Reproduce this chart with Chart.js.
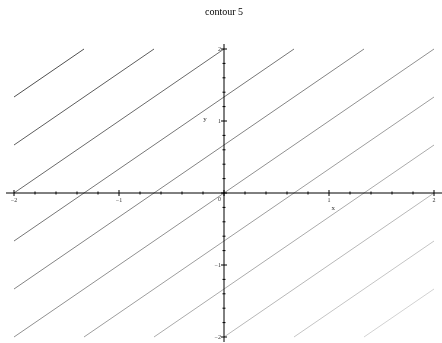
<!DOCTYPE html>
<html>
<head>
<meta charset="utf-8">
<script src="https://cdn.jsdelivr.net/npm/chart.js@4.4.0/dist/chart.umd.min.js"></script>
<style>
  html, body { margin: 0; padding: 0; background: #fff; }
  #wrap { width: 442px; height: 343px; }
</style>
</head>
<body>
<div id="wrap"><canvas id="contour"></canvas></div>
<script>
// contour levels of f(x, y) = y - x over the square [-2, 2] x [-2, 2]
const levels = [10 / 3, 8 / 3, 2, 4 / 3, 2 / 3, 0, -2 / 3, -4 / 3, -2, -8 / 3, -10 / 3];
const domain = [-2, 2];
const tickLabels = ['\u22122', '\u22121', '0', '1', '2'];
const tickValues = [-2, -1, 0, 1, 2];

// each level of y - x = c is a straight segment, clipped to the square
function segment(c) {
    const x0 = Math.max(domain[0], domain[0] - c);
    const x1 = Math.min(domain[1], domain[1] - c);
    return [{ x: x0, y: x0 + c }, { x: x1, y: x1 + c }];
}

// darker for high levels, lighter for low ones
function shade(i) {
    const g = Math.round(80 + i * 13);
    return `rgb(${g},${g},${g})`;
}

const datasets = levels.map((c, i) => ({
    data: segment(c),
    showLine: true,
    borderColor: shade(i),
    borderWidth: 1,
    pointRadius: 0,
    clip: false
}));

// axes through the origin with small ticks every 0.2
const axesPlugin = {
    id: 'crossAxes',
    afterDatasetsDraw(chart) {
        const { ctx, scales } = chart;
        const xs = scales.x, ys = scales.y;
        const ox = xs.getPixelForValue(0);
        const oy = ys.getPixelForValue(0);
        ctx.save();
        ctx.strokeStyle = '#000';
        ctx.lineWidth = 1;
        ctx.beginPath();
        ctx.moveTo(xs.getPixelForValue(domain[0]) - 8, oy);
        ctx.lineTo(xs.getPixelForValue(domain[1]) + 8, oy);
        ctx.moveTo(ox, ys.getPixelForValue(domain[1]) - 5);
        ctx.lineTo(ox, ys.getPixelForValue(domain[0]) + 5);
        ctx.stroke();

        ctx.beginPath();
        for (let k = -10; k <= 10; k++) {
            const v = k / 5;
            const len = k % 5 === 0 ? 3 : 1.5;
            const px = xs.getPixelForValue(v);
            const py = ys.getPixelForValue(v);
            ctx.moveTo(px, oy - len);
            ctx.lineTo(px, oy + len);
            ctx.moveTo(ox - len, py);
            ctx.lineTo(ox + len, py);
        }
        ctx.stroke();

        ctx.fillStyle = '#333';
        ctx.font = '6px "Liberation Serif"';
        tickValues.forEach((v, i) => {
            if (v === 0) {
                ctx.textAlign = 'right';
                ctx.textBaseline = 'top';
                ctx.fillText(tickLabels[i], ox - 3, oy + 3);
                return;
            }
            ctx.textAlign = 'center';
            ctx.textBaseline = 'top';
            ctx.fillText(tickLabels[i], xs.getPixelForValue(v), oy + 4);
            ctx.textAlign = 'right';
            ctx.textBaseline = 'middle';
            ctx.fillText(tickLabels[i], ox - 3, ys.getPixelForValue(v));
        });

        ctx.font = '7px "Liberation Serif"';
        ctx.textAlign = 'center';
        ctx.textBaseline = 'middle';
        ctx.fillText('x', xs.getPixelForValue(1.04), oy + 15);
        ctx.fillText('y', ox - 19, ys.getPixelForValue(1.03));
        ctx.restore();
    }
};

new Chart(document.getElementById('contour'), {
    type: 'scatter',
    data: { datasets },
    options: {
        responsive: true,
        maintainAspectRatio: false,
        animation: false,
        layout: { padding: { left: 14, right: 8, top: 0, bottom: 6 } },
        scales: {
            x: { type: 'linear', min: domain[0], max: domain[1], display: false },
            y: { type: 'linear', min: domain[0], max: domain[1], display: false }
        },
        plugins: {
            legend: { display: false },
            tooltip: { enabled: false },
            title: {
                display: true,
                text: 'contour 5',
                color: '#000',
                font: { family: 'Liberation Serif', size: 10, weight: 'normal' },
                padding: { top: 6, bottom: 31 }
            }
        }
    },
    plugins: [axesPlugin]
});
</script>
</body>
</html>
